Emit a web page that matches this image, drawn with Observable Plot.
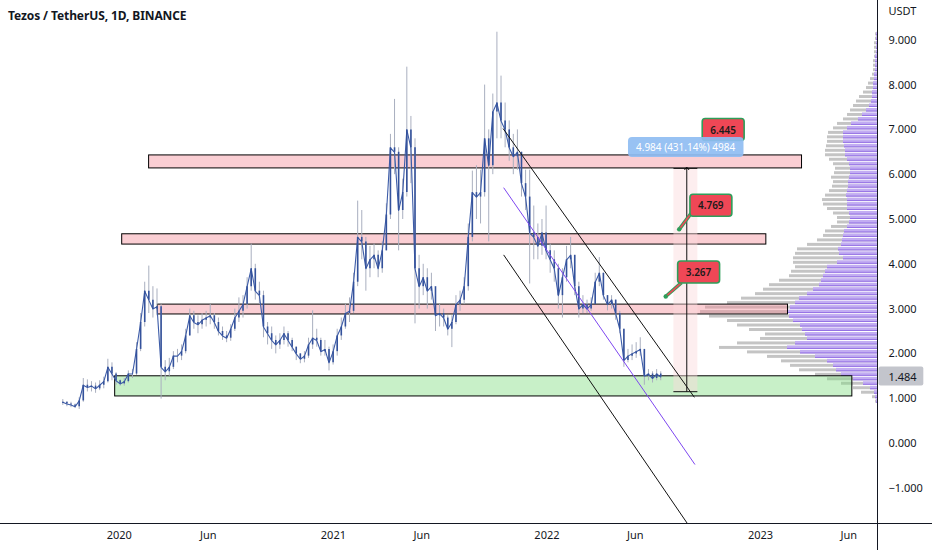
<!DOCTYPE html>
<html><head><meta charset="utf-8">
<script src="https://cdn.jsdelivr.net/npm/d3@7"></script>
<script src="https://cdn.jsdelivr.net/npm/@observablehq/plot@0.6"></script>
<style>
body{margin:0;background:#fff;}
#wrap{position:relative;width:932px;height:550px;}
#wrap svg{position:absolute;left:0;top:0;}
#title{position:absolute;left:8px;top:7px;font:bold 12px "Noto Sans",sans-serif;color:#131722;z-index:5;letter-spacing:-0.1px}
</style></head><body>
<div id="wrap"><div id="title">Tezos / TetherUS, 1D, BINANCE</div></div>
<script>
// ---------- price data (weekly) ----------
const firstWeek = "2019-09-23";
const firstOpen = 0.90;
const weekClose = [
 0.92,0.88,0.86,0.82,0.95,1.30,1.25,1.28,1.22,1.30,1.38,1.70,1.55,1.40,1.33,
 1.38,1.55,1.55,2.10,2.70,3.40,3.20,3.00,3.05,1.70,1.60,1.70,1.95,1.95,2.05,2.40,2.85,2.70,2.65,2.75,2.80,2.85,2.70,2.50,2.40,2.35,2.55,2.80,2.95,3.10,3.50,3.90,3.40,3.30,2.60,2.45,2.30,2.20,2.30,2.45,2.30,2.15,2.00,1.88,1.95,2.20,2.35,2.30,2.05,2.10,1.80,2.05,
 2.40,2.60,2.90,2.95,3.60,4.60,4.50,3.90,4.10,4.20,3.90,4.30,5.10,6.60,6.50,5.20,5.60,7.00,6.60,3.90,3.50,3.70,3.40,3.50,2.85,2.90,2.80,2.55,2.70,3.10,3.20,3.50,4.60,5.60,5.50,5.60,6.80,6.20,7.40,7.60,7.20,7.00,6.60,6.40,6.50,5.80,5.50,4.70,4.60,4.40,4.70,4.30,
 4.10,3.90,3.30,3.70,4.10,4.20,3.50,3.00,3.10,3.00,3.10,3.60,3.80,3.30,3.10,3.20,2.90,2.55,1.85,1.95,2.00,2.05,2.10,1.50,1.55,1.45,1.55,1.484
];
const weekLow = [
 0.85,0.82,0.80,0.78,0.76,0.92,1.15,1.15,1.12,1.18,1.22,1.35,1.40,1.30,1.28,
 1.28,1.35,1.45,1.52,2.05,2.60,2.90,2.80,2.85,0.99,1.40,1.50,1.65,1.80,1.85,2.00,2.40,2.55,2.45,2.55,2.60,2.65,2.55,2.40,2.30,2.25,2.28,2.50,2.70,2.80,3.00,3.40,3.20,3.10,2.36,2.20,2.10,2.00,2.10,2.20,2.15,2.05,1.85,1.78,1.80,1.90,2.10,2.15,1.95,1.95,1.62,1.75,
 1.95,2.30,2.55,2.70,2.90,3.50,4.10,3.40,3.70,3.90,3.70,3.80,4.30,5.00,6.00,4.30,5.00,5.50,5.80,2.67,3.00,3.30,3.00,3.20,2.50,2.60,2.60,2.40,2.14,2.65,2.95,3.10,3.40,4.50,5.00,4.90,5.50,4.50,6.00,6.80,6.80,6.60,6.30,6.00,6.10,5.50,5.20,3.56,4.10,4.10,4.20,4.10,
 3.80,3.60,3.00,2.80,3.60,3.90,3.30,2.80,2.90,2.90,2.95,3.10,3.50,3.20,2.96,3.00,2.75,2.45,1.70,1.80,1.85,1.90,1.95,1.30,1.40,1.35,1.40,1.40
];
const weekHigh = [
 0.98,0.93,0.92,0.88,1.02,1.45,1.42,1.38,1.35,1.40,1.48,1.88,1.80,1.58,1.42,
 1.45,1.62,1.65,2.25,2.90,3.60,3.96,3.50,3.45,3.10,1.85,1.90,2.05,2.10,2.20,2.55,3.00,2.95,2.85,2.90,2.95,3.10,2.90,2.80,2.60,2.50,2.65,3.00,3.25,3.30,3.70,4.45,4.00,3.60,3.40,2.70,2.60,2.40,2.45,2.60,2.50,2.35,2.15,2.00,2.05,2.35,2.96,2.55,2.35,2.30,2.15,2.20,
 2.55,2.80,3.10,3.25,3.80,5.41,5.20,4.60,4.40,4.45,4.30,4.50,5.35,6.90,7.68,6.60,5.90,8.40,7.30,6.80,4.20,4.00,3.90,3.80,3.40,3.10,3.00,2.85,2.85,3.30,3.40,3.70,4.90,6.08,6.20,6.10,8.00,7.00,7.80,9.18,8.20,7.60,7.20,6.90,7.00,6.50,6.10,6.10,5.30,4.90,5.00,5.30,
 4.45,4.30,4.00,3.90,4.40,4.60,4.20,3.60,3.30,3.20,3.25,3.80,4.15,3.80,3.30,3.30,3.20,2.95,2.55,2.10,2.20,2.25,2.36,2.05,1.65,1.60,1.65,1.60
];
const lastPrice = 1.484;

// ---------- volume profile (rows of 0.1 USDT) ----------
const profPrice = d3.range(90, 920, 10).map(v => v / 100);
const profTotal = [
 2,5,16,24,36,50,62,78,87,96,110,130,158,140,117,112,128,140,150,168,177,172,150,136,122,114,108,98,88,86,82,84,84,82,80,70,60,54,52,46,40,40,44,50,54,55,52,48,45,44,46,43,42,44,48,52,52,51,50,50,49,44,40,34,30,27,24,21,18,14,11,9,7,5,4,4,4,3,3,3,3,2,2,2
];
const profUp = [
 1,2,3,7,14,24,36,41,44,50,62,77,90,82,70,72,75,77,84,88,90,87,82,78,70,64,58,56,54,52,50,40,34,38,39,36,35,34,33,30,28,27,28,30,30,30,31,30,29,29,28,27,27,28,30,32,32,33,34,34,34,30,26,19,15,11,8,6,5,5,4,4,3,3,2,2,2,2,1,1,1,1,1,1
];

// ---------- drawings ----------
const zoneX1 = ["2020-02-21","2020-01-06","2020-03-07","2019-12-25"];
const zoneX2 = ["2023-03-13","2023-01-11","2023-02-17","2023-06-07"];
const zoneY1 = [6.14, 4.44, 2.88, 1.05];
const zoneY2 = [6.43, 4.67, 3.10, 1.50];
const zoneKind = ["res","res","res","sup"];

const lineX1 = ["2021-10-18","2021-10-19","2021-10-19"];
const lineY1 = [7.03, 4.21, 5.71];
const lineX2 = ["2022-09-10","2022-09-15","2022-09-11"];
const lineY2 = [1.03, -2.11, -0.47];
const lineKind = ["upper","lower","mid"];

const measureFrom = 1.156, measureTo = 6.14;
const measureDates = ["2022-08-06","2022-08-28","2022-09-16"];
const measureText = "4.984 (431.14%) 4984";
const measureLabelAt = ["2022-08-26", 6.60];

const calloutText = ["6.445","4.769","3.267"];
const calloutX = ["2022-10-29","2022-10-08","2022-09-17"];
const calloutY = [6.99, 5.30, 3.81];
const tailX1 = ["2022-08-15","2022-07-23"];
const tailY1 = [4.78, 3.28];
const tailX2 = ["2022-09-04","2022-08-19"];
const tailY2 = [5.13, 3.59];

const yTicks = d3.range(-1, 10);
const xTicks = ["2020-01-01","2020-06-01","2021-01-01","2021-06-01","2022-01-01","2022-06-01","2023-01-01","2023-06-01"];

// ---------- build tables ----------
const D = s => new Date(s);
const weeks = weekClose.map((c, i) => {
  const start = d3.utcMonday.offset(D(firstWeek), i);
  return {date: d3.utcHour.offset(start, 84), open: i ? weekClose[i-1] : firstOpen, close: c, low: weekLow[i], high: weekHigh[i]};
});
const profile = profPrice.map((p, i) => ({p0: p, p1: p + 0.1, total: profTotal[i], up: profUp[i]}));
const zones = zoneX1.map((x, i) => ({x1: D(x), x2: D(zoneX2[i]), y1: zoneY1[i], y2: zoneY2[i], kind: zoneKind[i]}));
const lines = lineX1.map((x, i) => ({x1: D(x), y1: lineY1[i], x2: D(lineX2[i]), y2: lineY2[i], kind: lineKind[i]}));
const callouts = calloutText.map((t, i) => ({text: t, x: D(calloutX[i]), y: calloutY[i]}));
const tails = tailX1.map((x, i) => ({x1: D(x), y1: tailY1[i], x2: D(tailX2[i]), y2: tailY2[i]}));

const W = 932, H = 550, mR = 55, mB = 27;
const xDomain = [D("2019-06-12"), D("2023-07-20")];
const yDomain = [-1.786, 9.888];
const font = "'Noto Sans', 'Liberation Sans', sans-serif";

// ---------- volume profile layer (behind) ----------
const prof = Plot.plot({
  width: W, height: H, marginLeft: 0, marginRight: mR, marginTop: 0, marginBottom: mB,
  style: "background:transparent;overflow:visible",
  x: {domain: [0, 877], reverse: true, axis: null},
  y: {domain: yDomain, axis: null},
  marks: [
    Plot.rectX(profile, {y1: "p0", y2: "p1", x1: 0, x2: "total", fill: "#c4c4c4", insetTop: 1.5}),
    Plot.rectX(profile, {y1: "p0", y2: "p1", x1: 0, x2: "up", fill: "#c2adf2", insetTop: 1.0}),
    Plot.rectX(profile, {y1: "p0", y2: "p1", x1: 0, x2: "up", fill: "#9470e4", insetTop: 3.5})
  ]
});

// ---------- main chart ----------
const mid = D(measureDates[1]);
const main = Plot.plot({
  width: W, height: H, marginLeft: 0, marginRight: mR, marginTop: 0, marginBottom: mB,
  style: `background:transparent;overflow:visible;font-family:${font};font-size:11px;color:#131722`,
  x: {type: "utc", domain: xDomain},
  y: {domain: yDomain},
  marks: [
    Plot.axisX({ticks: xTicks.map(D), tickSize: 0, tickPadding: 8, label: null,
      tickFormat: d => d.getUTCMonth() === 0 ? String(d.getUTCFullYear()) : "Jun", fill: "#131722"}),
    Plot.axisY({anchor: "right", ticks: yTicks, tickSize: 0, tickPadding: 11, label: null, textAnchor: "start",
      tickFormat: d => d.toFixed(3).replace("-", "\u2212"), fill: "#131722"}),
    Plot.text(["USDT"], {frameAnchor: "top-right", dx: 11, dy: 7, textAnchor: "start", fill: "#131722"}),
    // zones
    Plot.rect(zones, {x1: "x1", x2: "x2", y1: "y1", y2: "y2",
      fill: d => d.kind === "sup" ? "#7ddc7d" : "#f48a96", fillOpacity: 0.42,
      stroke: "#000", strokeWidth: 1}),
    // measurement band
    Plot.rect([0], {x1: D(measureDates[0]), x2: D(measureDates[2]), y1: measureFrom, y2: measureTo, fill: "#fbd9dc", fillOpacity: 0.45}),
    // candles
    Plot.ruleX(weeks, {x: "date", y1: "low", y2: "high", stroke: "#a9afbf", strokeWidth: 1}),
    Plot.line(weeks, {x: "date", y: "close", stroke: "#3d5ca8", strokeWidth: 1.1}),
    Plot.ruleX(weeks, {x: "date", y1: "open", y2: "close", stroke: "#34529c", strokeWidth: 1.6}),
    // channel
    Plot.link(lines, {x1: "x1", y1: "y1", x2: "x2", y2: "y2", clip: true,
      stroke: d => d.kind === "mid" ? "#7e47f0" : "#111", strokeWidth: 1}),
    // measurement
    Plot.link([0], {x1: mid, x2: mid, y1: measureFrom, y2: measureTo, stroke: "#111", strokeWidth: 1, markerEnd: "arrow"}),
    Plot.ruleY([measureFrom, measureTo], {x1: D(measureDates[0]), x2: D(measureDates[2]), stroke: "#111", strokeWidth: 1}),
    // callout tails
    Plot.link(tails, {x1: "x1", y1: "y1", x2: "x2", y2: "y2", stroke: "#2e9e5a", strokeWidth: 3.5}),
    Plot.link(tails, {x1: "x1", y1: "y1", x2: "x2", y2: "y2", stroke: "#ef4756", strokeWidth: 1.6}),
    Plot.dot(tails, {x: "x1", y: "y1", r: 2.2, fill: "#2e9e5a"}),
    // labels
    Plot.text(callouts, {x: "x", y: "y", text: "text", fill: "#1b1b1b", fontSize: 10, fontWeight: 600, ariaDescription: "callout"}),
    Plot.text([measureText], {x: D(measureLabelAt[0]), y: measureLabelAt[1], fill: "#fff", fontSize: 10, ariaDescription: "measure"}),
    Plot.text([lastPrice], {y: d => d, text: d => d.toFixed(3), frameAnchor: "right", dx: 11, textAnchor: "start", fill: "#131722", ariaDescription: "lastprice"}),
    // frame lines
    Plot.ruleY([yDomain[0]], {stroke: "#131722", strokeWidth: 1, insetRight: -mR}),
    Plot.ruleX([xDomain[1]], {stroke: "#131722", strokeWidth: 1, insetBottom: -mB})
  ]
});

const wrap = document.getElementById("wrap");
wrap.appendChild(prof);
wrap.appendChild(main);

function boxify(label, o) {
  main.querySelectorAll(`g[aria-description="${label}"] text`).forEach(t => {
    const b = t.getBBox();
    const r = document.createElementNS("http://www.w3.org/2000/svg", "rect");
    r.setAttribute("x", b.x - o.pl); r.setAttribute("y", b.y - o.pv);
    r.setAttribute("width", b.width + o.pl + o.pr); r.setAttribute("height", b.height + 2 * o.pv);
    r.setAttribute("rx", o.rx); r.setAttribute("fill", o.fill);
    if (o.stroke) { r.setAttribute("stroke", o.stroke); r.setAttribute("stroke-width", o.sw); }
    if (o.opacity) r.setAttribute("fill-opacity", o.opacity);
    const tr = t.getAttribute("transform"); if (tr) r.setAttribute("transform", tr);
    t.parentNode.insertBefore(r, t);
  });
}
boxify("callout", {pl: 8, pr: 8, pv: 4, rx: 3, fill: "#ef4756", stroke: "#2e9e5a", sw: 1.6});
boxify("measure", {pl: 8, pr: 8, pv: 3, rx: 4, fill: "#8fbdf2", opacity: 0.92});
boxify("lastprice", {pl: 10, pr: 6, pv: 2, rx: 2, fill: "#c3c5cc"});
</script>
</body></html>
